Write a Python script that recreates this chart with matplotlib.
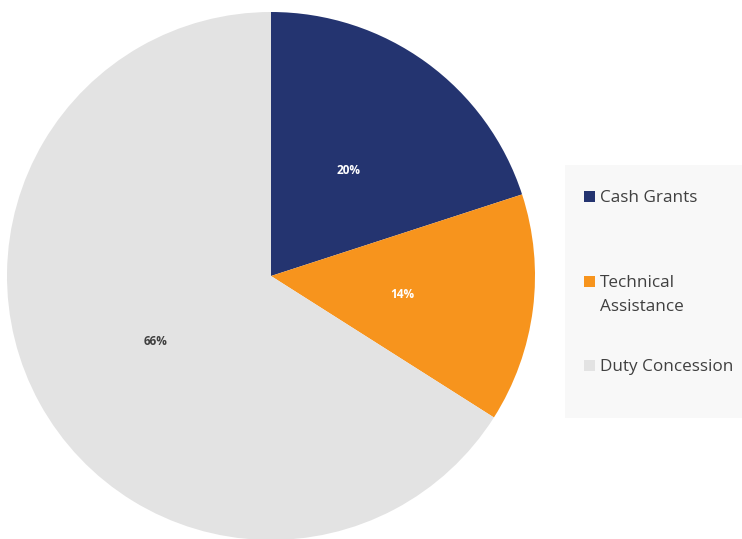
import matplotlib.pyplot as plt
from matplotlib.patches import Rectangle

plt.rcParams['font.family'] = ['Open Sans', 'DejaVu Sans']

categories = ['Cash Grants', 'Technical\nAssistance', 'Duty Concession']
shares = [20, 14, 66]
colors = ['#243470', '#F7941D', '#E3E3E3']
pct_colors = ['white', 'white', '#404040']

W, H = 742, 539
fig = plt.figure(figsize=(W / 100, H / 100), dpi=100)

# pie centre (271, 276) px, radius 264 px
cx, cy, r = 271, 276, 264
ax = fig.add_axes([(cx - r) / W, (H - cy - r) / H, 2 * r / W, 2 * r / H])
wedges, texts, autotexts = ax.pie(shares, colors=colors, startangle=90, counterclock=False,
                                  autopct='%d%%', pctdistance=0.5,
                                  wedgeprops=dict(linewidth=0))
for t, c in zip(autotexts, pct_colors):
    t.set_color(c)
    t.set_fontsize(8.5)
    t.set_fontweight('bold')
    t.set_va('center_baseline')
ax.set_aspect('equal')
ax.set_xlim(-1, 1)
ax.set_ylim(-1, 1)

# legend panel
fig.patches.append(Rectangle((565 / W, 1 - 418 / H), 177 / W, 253 / H,
                             transform=fig.transFigure, facecolor='#F8F8F8',
                             edgecolor='none', zorder=0))
item_y = [196, 281, 365]
for name, col, y in zip(categories, colors, item_y):
    fig.patches.append(Rectangle((584 / W, 1 - (y + 5.5) / H), 11 / W, 11 / H,
                                 transform=fig.transFigure, facecolor=col,
                                 edgecolor='none', zorder=1))
    for i, line in enumerate(name.split('\n')):
        fig.text(600 / W, 1 - (y + 6 + 24 * i) / H, line, fontsize=12.3,
                 color='#404040', va='baseline', ha='left')

fig.savefig('out.png', dpi=100)
